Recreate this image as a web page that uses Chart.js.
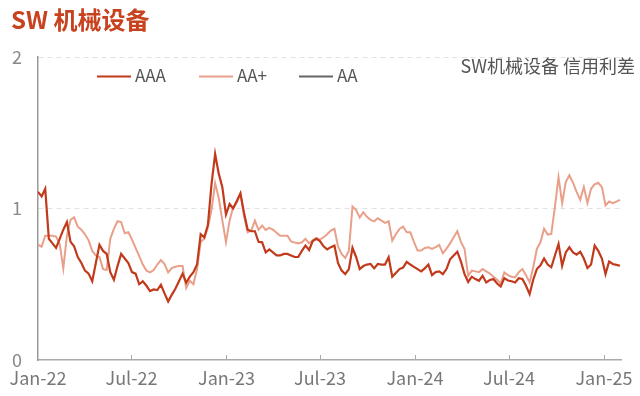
<!DOCTYPE html>
<html><head><meta charset="utf-8">
<script src="https://cdn.jsdelivr.net/npm/chart.js@4.4.1/dist/chart.umd.min.js"></script>
<style>
html,body{margin:0;padding:0;background:#fff;}
#wrap{position:relative;width:640px;height:396px;overflow:hidden;}
#title{position:absolute;left:11px;top:6px;font-weight:bold;font-size:24px;font-family:'Noto Sans CJK SC',sans-serif;color:#C8421F;line-height:26px;white-space:nowrap;}
#note{position:absolute;right:5px;top:54px;font-size:18px;font-family:'Noto Sans CJK SC',sans-serif;color:#555;line-height:22px;white-space:nowrap;}
canvas{position:absolute;left:0;top:0;}
</style></head><body>
<div id="wrap"><canvas id="c" width="640" height="396"></canvas><div id="title">SW 机械设备</div><div id="note">SW机械设备 信用利差</div></div>
<script>
const tickDays = [0,181,365,546,730,912,1096];
const tickLabels = ['Jan-22','Jul-22','Jan-23','Jul-23','Jan-24','Jul-24','Jan-25'];
const yTicks = [0,1,2];
const seriesNames = ['AAA','AA+','AA'];
const seriesColors = ['#C23A1C','#E9A08A','#666666'];

const AAA = [1.11,1.08,1.13,0.80,0.77,0.74,0.80,0.86,0.91,0.78,
0.75,0.68,0.64,0.59,0.57,0.52,0.64,0.76,0.72,0.70,
0.58,0.53,0.62,0.70,0.67,0.64,0.58,0.57,0.50,0.52,
0.49,0.455,0.466,0.462,0.497,0.44,0.386,0.43,0.47,0.52,
0.57,0.51,0.55,0.58,0.63,0.83,0.81,0.89,1.16,1.36,
1.23,1.14,0.96,1.03,1.00,1.05,1.10,0.97,0.86,0.85,
0.85,0.78,0.777,0.71,0.73,0.71,0.69,0.69,0.70,0.70,
0.69,0.68,0.68,0.72,0.755,0.726,0.785,0.80,0.785,0.75,
0.73,0.745,0.755,0.64,0.59,0.567,0.60,0.74,0.68,0.60,
0.62,0.63,0.634,0.605,0.634,0.63,0.63,0.678,0.55,0.575,
0.60,0.61,0.648,0.63,0.615,0.60,0.585,0.605,0.63,0.56,
0.58,0.585,0.567,0.60,0.665,0.69,0.715,0.65,0.567,0.515,
0.55,0.534,0.523,0.556,0.512,0.528,0.534,0.505,0.485,0.541,
0.525,0.52,0.512,0.54,0.535,0.49,0.435,0.53,0.60,0.625,
0.67,0.63,0.612,0.69,0.766,0.622,0.71,0.744,0.71,0.695,
0.715,0.67,0.607,0.63,0.755,0.72,0.67,0.567,0.65,0.634,
0.628,0.622];

const AAplus = [0.762,0.748,0.82,0.82,0.82,0.815,0.766,0.605,0.82,0.925,
0.942,0.88,0.86,0.83,0.79,0.72,0.69,0.68,0.60,0.594,
0.80,0.866,0.916,0.91,0.837,0.843,0.795,0.74,0.685,0.63,
0.59,0.578,0.594,0.63,0.66,0.634,0.578,0.607,0.615,0.62,
0.62,0.475,0.523,0.50,0.60,0.78,0.80,0.876,0.99,1.168,
1.07,0.92,0.777,0.92,1.01,1.04,1.097,0.95,0.843,0.854,
0.92,0.859,0.887,0.859,0.872,0.86,0.84,0.82,0.82,0.82,
0.783,0.775,0.77,0.777,0.80,0.77,0.79,0.806,0.795,0.81,
0.83,0.855,0.866,0.75,0.70,0.673,0.722,1.013,0.99,0.94,
0.975,0.945,0.925,0.915,0.935,0.92,0.905,0.916,0.788,0.83,
0.865,0.88,0.843,0.843,0.78,0.722,0.722,0.74,0.744,0.733,
0.745,0.76,0.704,0.735,0.77,0.81,0.85,0.78,0.733,0.556,
0.59,0.585,0.58,0.60,0.585,0.57,0.55,0.53,0.505,0.578,
0.56,0.55,0.545,0.58,0.60,0.56,0.512,0.611,0.733,0.777,
0.866,0.828,0.832,1.01,1.207,1.035,1.174,1.219,1.17,1.11,
1.057,1.141,1.037,1.13,1.159,1.17,1.141,1.02,1.046,1.035,
1.045,1.057];

const AA = [];

// weekly observations, day offset from 2022-01-01
const dayOffsets = AAA.map((_, i) => i * 7);

const FONT = "'Noto Sans CJK SC', sans-serif";

const toPoints = arr => arr.map((v, i) => ({x: dayOffsets[i], y: v}));

const tickMarks = {
  id: 'tickMarks',
  afterDraw(chart) {
    const {ctx, scales: {x, y}} = chart;
    ctx.save();
    ctx.strokeStyle = '#aaaaaa';
    ctx.lineWidth = 1;
    tickDays.forEach((d, i) => {
      if (i === 0) return;
      const px = Math.round(x.getPixelForValue(d)) + 0.5;
      ctx.beginPath();
      ctx.moveTo(px, y.bottom);
      ctx.lineTo(px, y.bottom - 5);
      ctx.stroke();
    });
    ctx.restore();
  }
};

const legendPlugin = {
  id: 'inlineLegend',
  afterDraw(chart) {
    const ctx = chart.ctx;
    const starts = [97, 199, 299];
    const ly = 76;
    ctx.save();
    ctx.font = '17px ' + FONT;
    ctx.textBaseline = 'middle';
    chart.data.datasets.forEach((ds, i) => {
      const sx = starts[i];
      ctx.strokeStyle = ds.borderColor;
      ctx.lineWidth = 2;
      ctx.beginPath();
      ctx.moveTo(sx, ly + 0.5);
      ctx.lineTo(sx + 34, ly + 0.5);
      ctx.stroke();
      ctx.fillStyle = '#555';
      ctx.fillText(ds.label, sx + 38, ly);
    });
    ctx.restore();
  }
};

new Chart(document.getElementById('c'), {
  type: 'line',
  data: {
    datasets: [
      {label: seriesNames[0], data: toPoints(AAA), borderColor: seriesColors[0], borderWidth: 2.2, pointRadius: 0, tension: 0, order: 1},
      {label: seriesNames[1], data: toPoints(AAplus), borderColor: seriesColors[1], borderWidth: 2, pointRadius: 0, tension: 0, order: 2},
      {label: seriesNames[2], data: toPoints(AA), borderColor: seriesColors[2], borderWidth: 2, pointRadius: 0, tension: 0, order: 3}
    ]
  },
  options: {
    responsive: false,
    animation: false,
    layout: {padding: {top: 57, right: 18, left: 0, bottom: 0}},
    plugins: {legend: {display: false}, tooltip: {enabled: false}, title: {display: false}},
    scales: {
      x: {
        type: 'linear', min: 0, max: 1130,
        afterBuildTicks: s => { s.ticks = tickDays.map(v => ({value: v})); },
        afterFit: s => { s.height = 36; },
        ticks: {autoSkip: false, maxRotation: 0, padding: 7, color: '#777', font: {family: FONT, size: 18},
          callback: v => tickLabels[tickDays.indexOf(v)]},
        grid: {display: false, drawTicks: false},
        border: {display: true, color: '#aaaaaa', width: 1.5}
      },
      y: {
        min: 0, max: 2,
        afterBuildTicks: s => { s.ticks = yTicks.map(v => ({value: v})); },
        afterFit: s => { s.width = 38; },
        ticks: {padding: 16, color: '#888', font: {family: FONT, size: 18}},
        grid: {drawTicks: false, lineWidth: 1, color: c => (c.tick && c.tick.value === 0) ? 'rgba(0,0,0,0)' : '#e2e2e2'},
        border: {display: true, color: '#999999', width: 1.5, dash: [5, 4]}
      }
    }
  },
  plugins: [tickMarks, legendPlugin]
});
</script>
</body></html>
